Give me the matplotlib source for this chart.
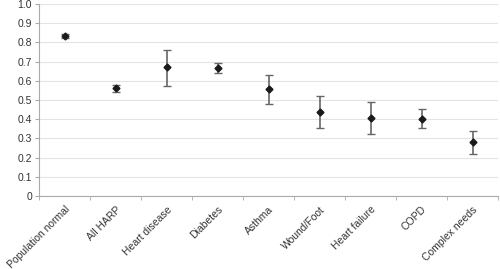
import matplotlib
matplotlib.use('Agg')
import matplotlib.pyplot as plt
import numpy as np

plt.rcParams['font.family'] = ['Liberation Sans', 'DejaVu Sans']

categories = ['Population normal', 'All HARP', 'Heart disease', 'Diabetes', 'Asthma',
              'Wound/Foot', 'Heart failure', 'COPD', 'Complex needs']
values = [0.833, 0.561, 0.672, 0.667, 0.559, 0.436, 0.408, 0.403, 0.280]
upper = [0.842, 0.580, 0.759, 0.691, 0.632, 0.519, 0.491, 0.453, 0.339]
lower = [0.825, 0.542, 0.571, 0.642, 0.481, 0.354, 0.321, 0.352, 0.220]

fig = plt.figure(figsize=(5.0, 2.69), dpi=100)
ax = fig.add_axes([0.078, 0.271, 0.918, 0.714])

x = np.arange(len(categories))
vals = np.array(values)
yerr = [vals - np.array(lower), np.array(upper) - vals]
ax.errorbar(x, vals, yerr=yerr, fmt='D', color='#1a1a1a', ms=3.5,
            ecolor='#666666', elinewidth=1.2, capsize=3, capthick=1, zorder=3)

ax.set_xlim(-0.5, len(categories) - 0.5)
ax.set_ylim(0, 1.0)
ax.set_yticks(np.arange(0, 1.01, 0.1))
ax.set_yticklabels(['0'] + ['%.1f' % v for v in np.arange(0.1, 1.01, 0.1)])
ax.yaxis.grid(True, color='#e3e3e3', linewidth=0.8)
ax.set_axisbelow(True)

ax.set_xticks(x)
ax.set_xticklabels(categories, rotation=45, ha='right', rotation_mode='anchor')
ax.tick_params(axis='x', length=0, labelsize=7.5, colors='#333333', pad=6)
ax.set_xticks(np.arange(-0.5, len(categories), 1), minor=True)
ax.tick_params(axis='x', which='minor', length=3, color='#aaaaaa')
ax.tick_params(axis='y', length=3, color='#aaaaaa', labelsize=7.5, labelcolor='#333333', pad=2)

for s in ['top', 'right']:
    ax.spines[s].set_visible(False)
for s in ['left', 'bottom']:
    ax.spines[s].set_color('#aaaaaa')
    ax.spines[s].set_linewidth(0.8)

fig.savefig('out.png', dpi=100, facecolor='white')
